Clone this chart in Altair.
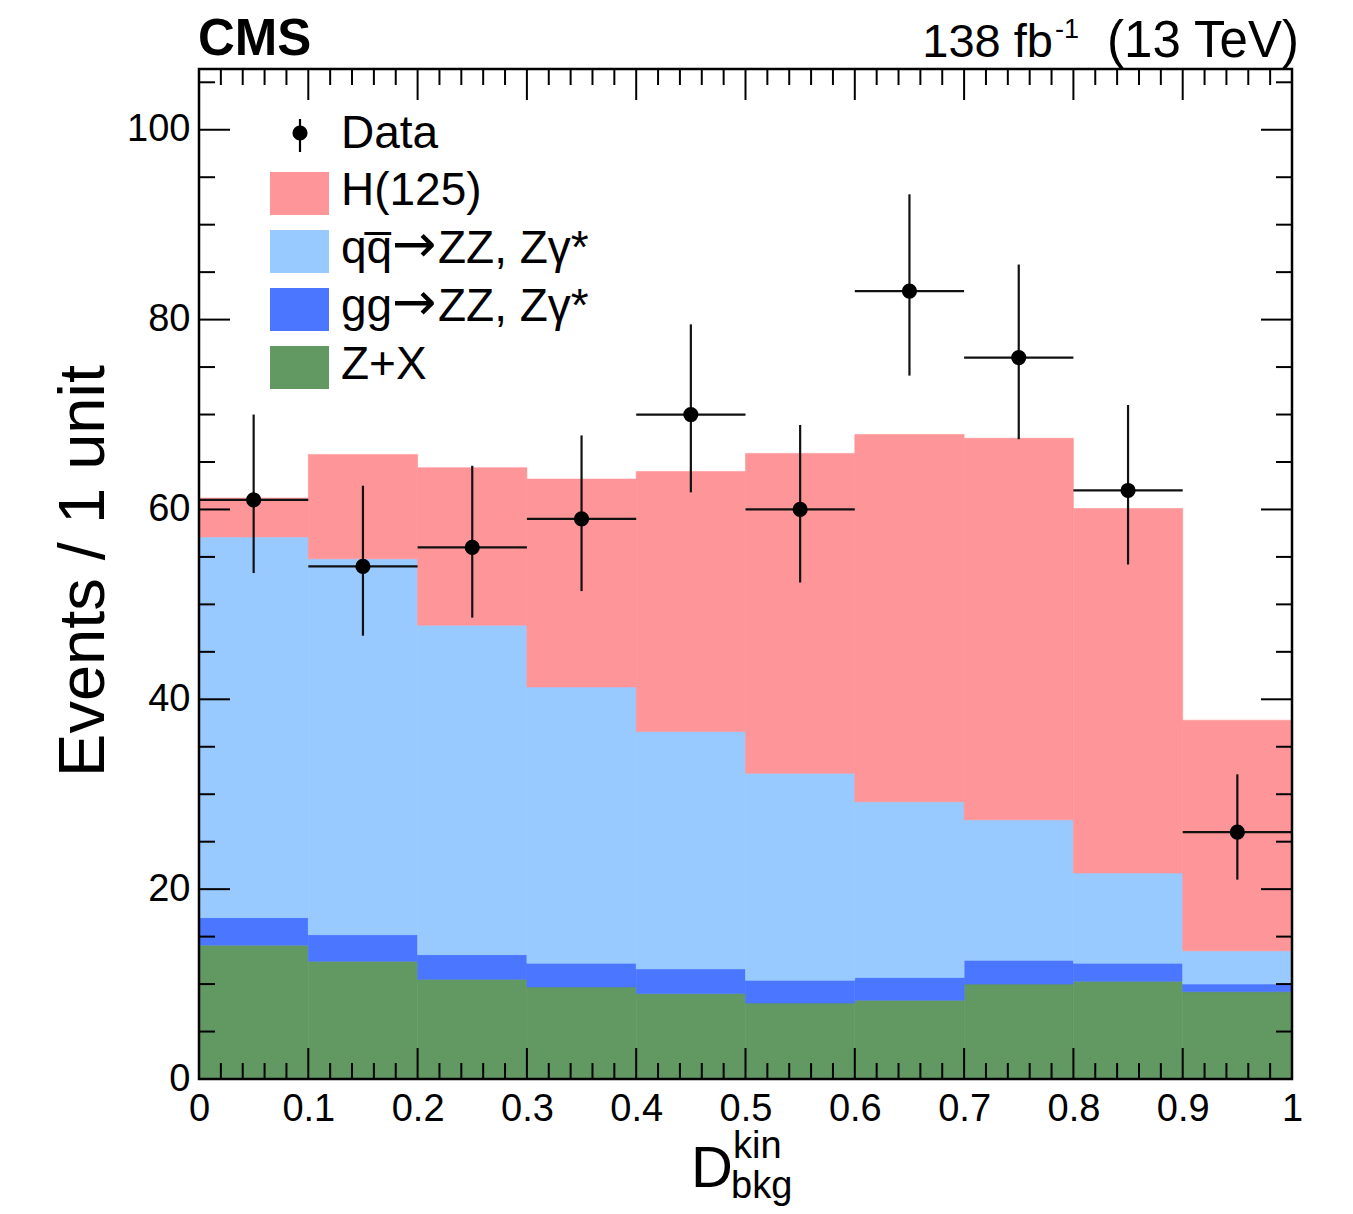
import altair as alt
import pandas as pd

FONT = "Liberation Sans"

# ---------------- data ----------------
bin_edges = [0.0, 0.1, 0.2, 0.3, 0.4, 0.5, 0.6, 0.7, 0.8, 0.9, 1.0]
zx = [14.1, 12.4, 10.5, 9.7, 9.0, 8.0, 8.3, 10.0, 10.3, 9.2]
gg = [2.9, 2.8, 2.6, 2.5, 2.6, 2.4, 2.4, 2.5, 1.9, 0.8]
qq = [40.1, 39.6, 34.7, 29.1, 25.0, 21.8, 18.5, 14.8, 9.5, 3.5]
h125 = [4.1, 11.0, 16.6, 21.9, 27.4, 33.7, 38.7, 40.2, 38.4, 24.3]

data_obs = [61, 54, 56, 59, 70, 60, 83, 76, 62, 26]
data_lo = [53.3, 46.7, 48.6, 51.4, 61.8, 52.3, 74.1, 67.4, 54.2, 21.0]
data_hi = [70.0, 62.5, 64.6, 67.8, 79.5, 68.9, 93.2, 85.8, 71.0, 32.1]

series_names = ["Z+X", "gg\u2192ZZ, Z\u03b3*", "qq\u0305\u2192ZZ, Z\u03b3*", "H(125)"]
# legend label pieces (process part, arrow, final state)
legend_parts = [("Z+X", None, None),
                ("gg", "\u2192", "ZZ, Z\u03b3*"),
                ("qq\u0305", "\u2192", "ZZ, Z\u03b3*"),
                ("H(125)", None, None)]
series_values = [zx, gg, qq, h125]
series_colors = ["#629963", "#4B76FF", "#99CAFF", "#FE9599"]

x_major = [0.0, 0.1, 0.2, 0.3, 0.4, 0.5, 0.6, 0.7, 0.8, 0.9, 1.0]
x_minor = [i / 50 for i in range(51) if i % 5 != 0]
y_major = [0, 20, 40, 60, 80, 100]
y_minor = [5 * k for k in range(1, 22) if k % 4 != 0]

# ---------------- tables ----------------
rows = []
cum = [0.0] * 10
for name, vals, col in zip(series_names, series_values, series_colors):
    for i in range(10):
        rows.append(dict(series=name, x0=bin_edges[i], x1=bin_edges[i + 1],
                         y0=cum[i], y1=cum[i] + vals[i], color=col))
        cum[i] += vals[i]
stack_df = pd.DataFrame(rows)

obs_df = pd.DataFrame({
    "x0": bin_edges[:-1], "x1": bin_edges[1:],
    "xc": [(a + b) / 2 for a, b in zip(bin_edges[:-1], bin_edges[1:])],
    "obs": data_obs, "lo": data_lo, "hi": data_hi,
})

W, H = 1093, 1010
MAJ, MIN = 31, 16

xs = alt.Scale(domain=[0, 1], nice=False, zero=False)
ys = alt.Scale(domain=[0, 106.4], nice=False, zero=True)
xaxis = alt.Axis(values=x_major, format="~g", labelFont=FONT, labelFontSize=38,
                 labelColor="black", labelPadding=11, ticks=False, domain=False,
                 grid=False, labelFlush=False, labelOverlap=False, title=None)
yaxis = alt.Axis(values=y_major, labelFont=FONT, labelFontSize=38,
                 labelColor="black", labelPadding=9, ticks=False, domain=False,
                 grid=False, labelOverlap=False, title=None)

hist = alt.Chart(stack_df).mark_rect(strokeWidth=0.6).encode(
    x=alt.X("x0:Q", scale=xs, axis=xaxis),
    x2="x1:Q",
    y=alt.Y("y0:Q", scale=ys, axis=yaxis),
    y2="y1:Q",
    fill=alt.Fill("color:N", scale=None),
    stroke=alt.Stroke("color:N", scale=None),
)

err_v = alt.Chart(obs_df).mark_rule(color="#111111", strokeWidth=2.2).encode(
    x=alt.X("xc:Q", scale=xs, axis=xaxis), y=alt.Y("lo:Q", scale=ys, axis=yaxis), y2="hi:Q")
err_h = alt.Chart(obs_df).mark_rule(color="#111111", strokeWidth=2.2).encode(
    x=alt.X("x0:Q", scale=xs, axis=xaxis), x2="x1:Q", y=alt.Y("obs:Q", scale=ys, axis=yaxis))
pts = alt.Chart(obs_df).mark_point(filled=True, shape="circle", size=230,
                                   color="black", opacity=1).encode(
    x=alt.X("xc:Q", scale=xs, axis=xaxis), y=alt.Y("obs:Q", scale=ys, axis=yaxis))

# ---------------- inward ticks ----------------
tick_layers = []
for vals, ln in ((x_major, MAJ), (x_minor, MIN)):
    tdf = pd.DataFrame({"v": vals})
    tick_layers.append(alt.Chart(tdf).mark_rule(color="black", strokeWidth=2).encode(
        x=alt.X("v:Q", scale=xs, axis=xaxis), y=alt.value(H - ln), y2=alt.value(H)))
    tick_layers.append(alt.Chart(tdf).mark_rule(color="black", strokeWidth=2).encode(
        x=alt.X("v:Q", scale=xs, axis=xaxis), y=alt.value(0), y2=alt.value(ln)))
for vals, ln in ((y_major, MAJ), (y_minor, MIN)):
    tdf = pd.DataFrame({"v": vals})
    tick_layers.append(alt.Chart(tdf).mark_rule(color="black", strokeWidth=2).encode(
        y=alt.Y("v:Q", scale=ys, axis=yaxis), x=alt.value(0), x2=alt.value(ln)))
    tick_layers.append(alt.Chart(tdf).mark_rule(color="black", strokeWidth=2).encode(
        y=alt.Y("v:Q", scale=ys, axis=yaxis), x=alt.value(W - ln), x2=alt.value(W)))

dummy = pd.DataFrame({"a": [0]})

frame = alt.Chart(dummy).mark_rect(fillOpacity=0, stroke="black", strokeWidth=2.5).encode(
    x=alt.value(0), x2=alt.value(W), y=alt.value(0), y2=alt.value(H))

# ---------------- legend ----------------
def txt(s, x, y, size=46, align="left", font=FONT, weight="normal", angle=None):
    kw = dict(text=s, font=font, fontSize=size, align=align, baseline="alphabetic",
              color="black", fontWeight=weight)
    if angle is not None:
        kw["angle"] = angle
    return alt.Chart(dummy).mark_text(**kw).encode(x=alt.value(x), y=alt.value(y))

leg = []
leg.append(alt.Chart(dummy).mark_rule(color="black", strokeWidth=2.2).encode(
    x=alt.value(101), y=alt.value(50), y2=alt.value(83)))
leg.append(alt.Chart(dummy).mark_point(filled=True, shape="circle", size=230,
                                       color="black", opacity=1).encode(
    x=alt.value(101), y=alt.value(64)))
leg.append(txt("Data", 142, 79))
legend_order = [3, 2, 1, 0]
for r, idx in enumerate(legend_order):
    top = 103 + 58 * r
    leg.append(alt.Chart(dummy).mark_rect(color=series_colors[idx]).encode(
        x=alt.value(71), x2=alt.value(130), y=alt.value(top), y2=alt.value(top + 43)))
    p1, arrow, p2 = legend_parts[idx]
    base = top + 33
    leg.append(txt(p1, 142, base))
    if arrow:
        leg.append(txt(arrow, 193, base - 1, size=53, font="DejaVu Sans"))
        leg.append(txt(p2, 239, base))

# ---------------- titles ----------------
texts = [
    txt("CMS", -1, -14, size=51, weight="bold"),
    txt("138 fb", 854, -12, size=47, align="right"),
    txt("-1", 856, -31, size=27),
    txt("(13 TeV)", 1004, -12, size=51, align="center"),
    txt("Events / 1 unit", -95, 296, size=65, align="right", angle=270),
    txt("D", 492, 1118, size=58),
    txt("kin", 534, 1089, size=38),
    txt("bkg", 532, 1129, size=38),
]

chart = alt.layer(hist, err_v, err_h, pts, *tick_layers, frame, *leg, *texts).properties(
    width=W, height=H,
    padding={"left": 199, "top": 69, "right": 61, "bottom": 135},
    autosize="none",
    background="white",
).configure_view(stroke=None)

chart.save("out.html", embed_options={"renderer": "svg", "actions": False})
